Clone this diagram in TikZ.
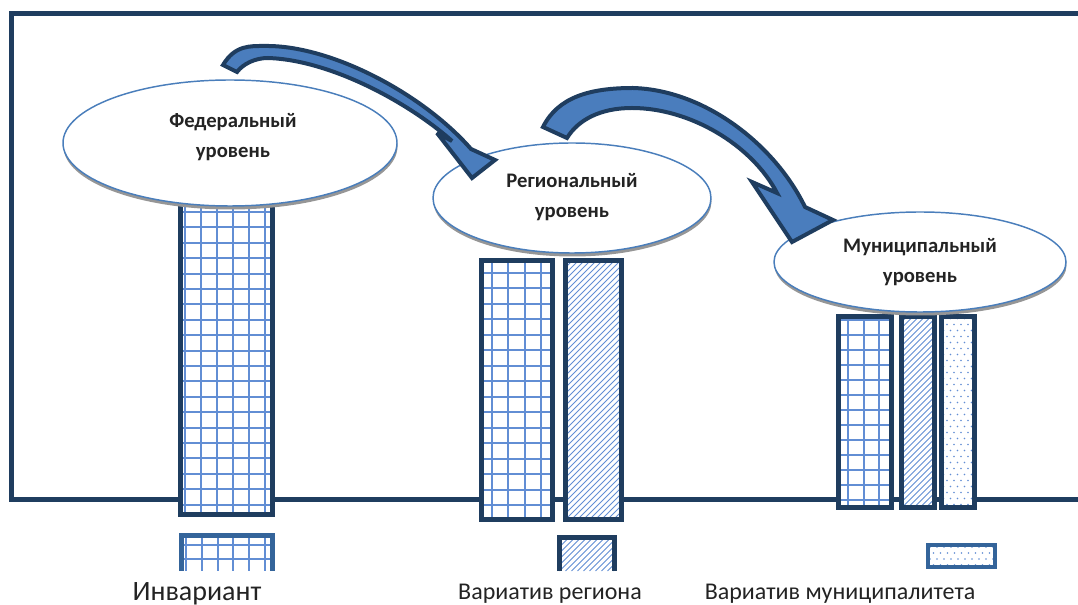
\documentclass[tikz,border=0pt]{standalone}
\usepackage{fontspec}
\setmainfont{Carlito}
\usetikzlibrary{shapes.geometric}
\definecolor{navy}{RGB}{31,61,95}
\definecolor{medblue}{RGB}{52,100,154}
\definecolor{gridc}{RGB}{98,142,212}
\definecolor{ellc}{RGB}{74,126,187}
\definecolor{arrfill}{RGB}{74,125,189}
\definecolor{shadc}{RGB}{150,150,150}
\definecolor{txt}{RGB}{35,35,35}
\tikzset{
  gl/.style={draw=gridc, line width=1.5pt},
  hl/.style={draw=gridc, line width=0.7pt},
  dc/.style={fill=gridc},
  colb/.style={draw=navy, line width=3.75pt},
  legb/.style={draw=medblue, line width=3.75pt},
  ell/.style={ellipse, draw=ellc, line width=1.1pt, fill=white, inner sep=0pt},
  arr/.style={draw=navy, fill=arrfill, line width=3pt, line join=miter, miter limit=4},
  lbl/.style={font=\bfseries\fontsize{15.5}{23}\selectfont, align=center, text=txt, inner sep=0pt},
  blbl/.style={anchor=base, text=txt, inner sep=0pt}
}
\newcommand\mygrid[8]{%
  \begin{scope}
  \clip (#1,#2) rectangle (#3,#4);
  \foreach \k in {0,...,8} {\draw[gl] ({#5+\k*#7},#2) -- ({#5+\k*#7},#4);}
  \foreach \k in {0,...,22} {\draw[gl] (#1,{#6+\k*#8}) -- (#3,{#6+\k*#8});}
  \end{scope}}
\newcommand\myhatch[4]{%
  \begin{scope}
  \clip (#1,#2) rectangle (#3,#4);
  \foreach \k in {-50,...,12} {\draw[hl] ({#1+\k*6},#4) -- ++(300,-300);}
  \end{scope}}
\newcommand\mydots[4]{%
  \begin{scope}
  \clip (#1,#2) rectangle (#3,#4);
  \foreach \r in {0,...,32} {\foreach \c in {0,...,9} {\fill[dc] ({#1+2+\c*7+mod(\r,2)*3.5},{#2+2+\r*6}) circle (0.8);}}
  \end{scope}}
\begin{document}
\begin{tikzpicture}[x=0.75pt,y=-0.75pt]
\useasboundingbox (0,0) rectangle (1078,605);
\clip (0,0) rectangle (1078,605);
% frame
\draw[navy, line width=3.75pt] (1100,13.5) -- (11.7,13.5) -- (11.7,500) -- (1100,500);
% federal column
\fill[white] (180.5,205) rectangle (272.5,515);
\mygrid{180.5}{205}{272.5}{515}{185}{196.6}{16}{15.4}
\draw[colb] (180.5,205) rectangle (272.5,515);
% regional columns
\fill[white] (481.5,260.5) rectangle (552.5,519.5);
\mygrid{481.5}{260.5}{552.5}{519.5}{492}{257.5}{16.3}{15.5}
\draw[colb] (481.5,260.5) rectangle (552.5,519.5);
\fill[white] (565.5,260.5) rectangle (621.5,519.5);
\myhatch{565.5}{260.5}{621.5}{519.5}
\draw[colb] (565.5,260.5) rectangle (621.5,519.5);
% municipal columns
\fill[white] (838.5,316.5) rectangle (891.5,508);
\mygrid{838.5}{316.5}{891.5}{508}{848}{320}{15.5}{15}
\draw[colb] (838.5,316.5) rectangle (891.5,508);
\fill[white] (901.5,316.5) rectangle (934.5,508);
\myhatch{901.5}{316.5}{934.5}{508}
\draw[colb] (901.5,316.5) rectangle (934.5,508);
\fill[white] (941.5,316.5) rectangle (974.5,508);
\mydots{941.5}{316.5}{974.5}{508}
\draw[colb] (941.5,316.5) rectangle (974.5,508);
% legend boxes (cut off at the lower side as in the source)
\fill[white] (181.5,535.5) rectangle (272.5,571);
\mygrid{181.5}{535.5}{272.5}{571}{186}{545}{15.8}{14}
\draw[legb] (181.5,571) -- (181.5,535.5) -- (272.5,535.5) -- (272.5,571);
\fill[white] (559.5,537.5) rectangle (614.5,571);
\myhatch{559.5}{537.5}{614.5}{571}
\draw[colb] (559.5,571) -- (559.5,537.5) -- (614.5,537.5) -- (614.5,571);
\fill[white] (928,545) rectangle (995,567);
\mydots{928}{545}{995}{567}
\draw[legb, line width=3pt] (928,545) rectangle (995,567);
% ellipses with shadows
\fill[shadc] (230.5,146.5) ellipse [x radius=167, y radius=63];
\node[ell, minimum width=250.5pt, minimum height=94.5pt] (fed) at (230,143) {};
\fill[shadc] (572.5,201.5) ellipse [x radius=139, y radius=55];
\node[ell, minimum width=208.5pt, minimum height=82.5pt] (reg) at (572,198) {};
\fill[shadc] (920.5,265.5) ellipse [x radius=146, y radius=50];
\node[ell, minimum width=219pt, minimum height=75pt] (mun) at (920,262) {};
% arrows
\filldraw[arr] (223,65) .. controls (235,45) and (250,46) .. (265,46) .. controls (330,45) and (422,93) .. (471,149) -- (495,160) -- (472,178) -- (437,133) -- (452,141) .. controls (408,102) and (330,60) .. (268,58) .. controls (255,58) and (243,64) .. (237,72) -- cycle;
\filldraw[arr] (543,127) .. controls (558,97) and (590,88) .. (633,88) .. controls (705,90) and (775,145) .. (805,207) -- (833,220) -- (792,242) -- (752,182) -- (777,193) .. controls (752,145) and (690,108) .. (632,108) .. controls (600,108) and (578,120) .. (567,138) -- cycle;
% texts
\node[lbl] (tfed) at (233,137) {Федеральный\\уровень};
\node[lbl] (treg) at (572,197) {Региональный\\уровень};
\node[lbl] (tmun) at (920,262) {Муниципальный\\уровень};
\node[blbl, font=\fontsize{21}{21}\selectfont] (linv) at (197,600) {Инвариант};
\node[blbl, font=\fontsize{18}{18}\selectfont] (lreg) at (550,599) {Вариатив региона};
\node[blbl, font=\fontsize{18}{18}\selectfont] (lmun) at (840,599) {Вариатив муниципалитета};
\end{tikzpicture}
\end{document}
